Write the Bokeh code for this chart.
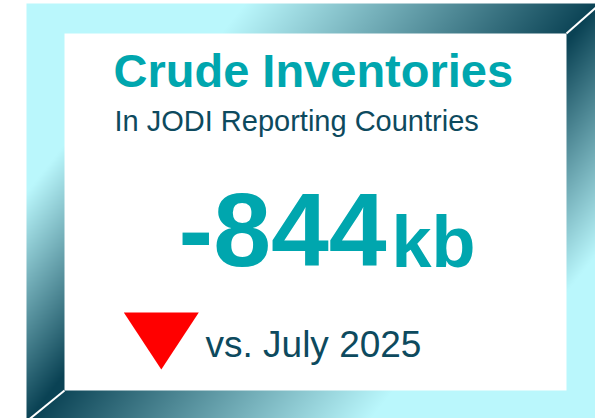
import numpy as np
from bokeh.plotting import figure
from bokeh.models import Range1d
from bokeh.core.properties import value as pv
from bokeh.embed import file_html
from bokeh.resources import INLINE

# ---- data ----
title = "Crude Inventories"
subtitle = "In JODI Reporting Countries"
change_value = [-844]
change_unit = ["kb"]
comparison = ["vs. July 2025"]

# ---- layout (screen pixel space of the 595x418 picture) ----
W, H = 595, 418
FONT = "Liberation Sans"
TEAL = "#00A6AE"
DARK = "#0D4A5E"
BASE_SHIFT = 0.36  # em offset of the rendered baseline

def Y(sy):
    return H - sy

def TY(baseline, fs):
    return Y(baseline - BASE_SHIFT * fs)

p = figure(width=W, height=H, output_backend="svg",
           toolbar_location=None, x_axis_type=None, y_axis_type=None,
           x_range=Range1d(0, W), y_range=Range1d(0, H),
           min_border=0, outline_line_color=None,
           background_fill_color="white", border_fill_color="white")
p.grid.visible = False

# ---- bevelled gradient frame as an RGBA image ----
ox0, ox1, oy0, oy1 = 26, 600, 3, 421
ix0, ix1, iy0, iy1 = 64, 566, 33, 390
light = np.array([186, 247, 252], dtype=float)
dark = np.array([10, 66, 84], dtype=float)

nx, ny = W, H
sx = np.arange(nx) + 0.5
sy = np.arange(ny) + 0.5
SX, SY = np.meshgrid(sx, sy)
pp = 0.78 * SX + 0.62 * SY

dl = (SX - ox0) / (ix0 - ox0)
dr = (ox1 - SX) / (ox1 - ix1)
dt = (SY - oy0) / (iy0 - oy0)
db = (oy1 - SY) / (oy1 - iy1)
side = np.argmin(np.stack([dt, dr, db, dl]), axis=0)
inside_outer = (SX >= ox0) & (SX <= ox1) & (SY >= oy0) & (SY <= oy1)
inside_inner = (SX >= ix0) & (SX <= ix1) & (SY >= iy0) & (SY <= iy1)
frame = inside_outer & ~inside_inner

t_top = (pp - 194) / (470 - 194)
t_left = (pp - 140) / (282 - 140)
t_right = (622 - pp) / (622 - 467)
t_bot = (547 - pp) / (547 - 282)
t = np.clip(np.choose(side, [t_top, t_right, t_bot, t_left]), 0, 1)

rgb = light[None, None, :] * (1 - t[..., None]) + dark[None, None, :] * t[..., None]
rgb[~frame] = 255
rgb = rgb.astype(np.uint32)
img = (255 << 24) | (rgb[..., 2] << 16) | (rgb[..., 1] << 8) | rgb[..., 0]
img = np.flipud(img).astype(np.uint32)
p.image_rgba(image=[img], x=0, y=0, dw=nx, dh=ny)

# white mitre lines on the dark corners
p.line(x=[ix1, ox1], y=[Y(iy0), Y(oy0)], line_color="white", line_width=2)
p.line(x=[ix0, ox0], y=[Y(iy1), Y(oy1)], line_color="white", line_width=2)

# ---- texts ----
p.text(x=[113], y=[TY(87, 47)], text=[title], text_font=pv(FONT),
       text_font_style="bold", text_font_size="47px", text_color=TEAL,
       text_baseline="alphabetic", text_align="left")
p.text(x=[114], y=[TY(131, 29)], text=[subtitle], text_font=pv(FONT),
       text_font_size="29px", text_color=DARK,
       text_baseline="alphabetic", text_align="left")

num_txt = [f"{v}" for v in change_value]
p.text(x=[178], y=[TY(267, 104)], text=num_txt, text_font=pv(FONT),
       text_font_style="bold", text_font_size="104px", text_color=TEAL,
       text_baseline="alphabetic", text_align="left")
p.text(x=[391], y=[TY(267, 72)], text=change_unit, text_font=pv(FONT),
       text_font_style="bold", text_font_size="72px", text_color=TEAL,
       text_baseline="alphabetic", text_align="left")

# direction indicator (down for a negative change)
cx, top_y, half_w, tri_h = 160.8, 312, 37.5, 57
if change_value[0] < 0:
    tri_y = [Y(top_y), Y(top_y), Y(top_y + tri_h)]
    tri_col = "#FF0000"
else:
    tri_y = [Y(top_y + tri_h), Y(top_y + tri_h), Y(top_y)]
    tri_col = "#00B050"
p.patch(x=[cx - half_w, cx + half_w, cx], y=tri_y, fill_color=tri_col, line_color=None)

p.text(x=[205], y=[TY(357, 37)], text=comparison, text_font=pv(FONT),
       text_font_size="37px", text_color=DARK,
       text_baseline="alphabetic", text_align="left")

open("out.html", "w").write(file_html(p, INLINE))
